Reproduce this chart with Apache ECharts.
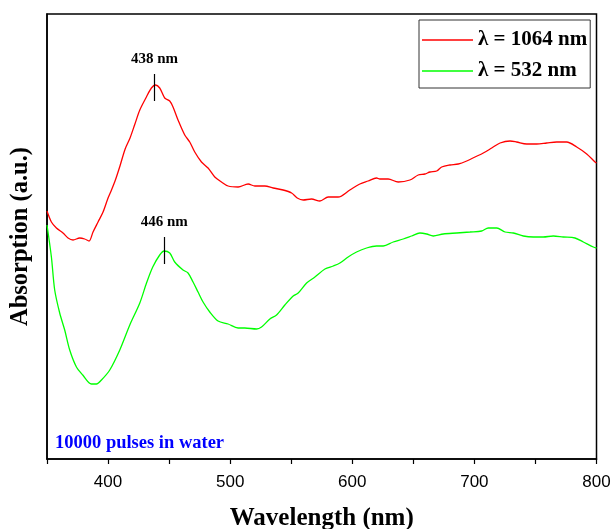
<!DOCTYPE html>
<html>
<head>
<meta charset="utf-8">
<script src="https://cdn.jsdelivr.net/npm/echarts@6/dist/echarts.min.js"></script>
<style>
html,body{margin:0;padding:0;background:#fff;}
#chart{width:612px;height:529px;}
</style>
</head>
<body>
<div id="chart"></div>
<script>
// Wavelength (nm) and absorption (a.u.)
const redWavelengths = [350,353.6,357.7,363.1,367.2,371.3,376.8,380.9,384.4,387.7,391.8,395.9,400,402.8,406,410,414,418,422,426,431.4,435.5,438.8,442.3,446.4,450.5,453.2,457.3,462.8,466.9,471,476.5,481.9,487.4,492.9,498.3,506.5,514.7,520.2,528.4,535.2,543.4,550.3,554.9,559.8,566.6,573.5,580.3,588.4,598,606.2,613,619.9,622.6,629.4,637.6,647.2,654,659.5,663.6,669.1,673.2,680,686.8,693.7,700.5,707.3,714.2,721,729.2,734.6,742.8,751,759.2,767.4,775.6,783.8,792,798.8,800];
const redValues = [2.48,2.37,2.31,2.26,2.21,2.19,2.21,2.20,2.18,2.27,2.37,2.47,2.61,2.69,2.79,2.94,3.10,3.21,3.35,3.49,3.62,3.71,3.74,3.71,3.61,3.58,3.52,3.39,3.24,3.17,3.07,2.97,2.91,2.82,2.77,2.73,2.72,2.75,2.73,2.73,2.71,2.69,2.66,2.61,2.59,2.60,2.58,2.62,2.62,2.69,2.75,2.78,2.81,2.80,2.80,2.77,2.79,2.84,2.85,2.87,2.88,2.92,2.94,2.95,2.98,3.02,3.06,3.11,3.16,3.18,3.17,3.15,3.15,3.16,3.17,3.17,3.12,3.05,2.97,2.96];

const greenWavelengths = [350,353.6,356.3,360.4,364.5,368.6,374.1,379.3,386.4,390.5,394.6,401.4,409.6,417.8,426,431.5,436.6,442.3,445.9,450.5,454.6,461.4,465.5,469.6,473.7,477.8,483.3,490.1,498.3,506.5,512,521.6,525.7,532.5,538,544.8,551.6,555.7,562.6,569.4,577.6,584.4,589.9,596.6,603.5,611.7,619.9,625.3,633.5,641.7,648.6,655.4,660.9,666.3,674.5,685.5,696.4,706,711.4,718.3,725.1,731.9,740.1,748.3,756.4,764.6,772.8,782.4,789.2,797.4,800];
const greenValues = [2.34,2.02,1.69,1.46,1.29,1.09,0.92,0.84,0.75,0.75,0.79,0.89,1.09,1.34,1.56,1.76,1.92,2.04,2.08,2.06,1.97,1.89,1.86,1.77,1.67,1.57,1.47,1.38,1.35,1.31,1.31,1.30,1.32,1.40,1.44,1.54,1.63,1.66,1.76,1.82,1.90,1.93,1.96,2.02,2.07,2.11,2.13,2.13,2.17,2.20,2.23,2.26,2.25,2.23,2.25,2.26,2.27,2.28,2.31,2.31,2.27,2.26,2.23,2.22,2.22,2.23,2.22,2.21,2.17,2.12,2.11];

const seriesNames = ['λ = 1064 nm', 'λ = 532 nm'];
const xTickLabels = [400, 500, 600, 700, 800];
// peak annotations: [wavelength, lineBottom, lineTop, label]
const redPeak = [438, 3.58, 3.85, '438 nm'];
const greenPeak = [446, 1.95, 2.22, '446 nm'];
const noteText = '10000 pulses in water';

const serif = '"Liberation Serif", "Times New Roman", serif';
const sans = '"Liberation Sans", Arial, sans-serif';

function pairs(xs, ys) { return xs.map((x, i) => [x, ys[i]]); }
function peakLine(p) {
  return {
    silent: true,
    symbol: ['none', 'none'],
    lineStyle: { color: '#000', width: 1.2, type: 'solid' },
    label: { show: true, position: 'end', distance: 7, formatter: p[3], color: '#000', fontFamily: serif, fontWeight: 'bold', fontSize: 15 },
    emphasis: { disabled: true },
    data: [[{ coord: [p[0], p[1]] }, { coord: [p[0], p[2]] }]]
  };
}

const chart = echarts.init(document.getElementById('chart'), null, { renderer: 'canvas' });
chart.setOption({
  animation: false,
  backgroundColor: '#fff',
  title: {
    text: noteText, left: 50, top: 429,
    textStyle: { color: '#0000ff', fontFamily: serif, fontWeight: 'bold', fontSize: 18.5 }
  },
  legend: {
    data: seriesNames.map(n => ({ name: n, icon: 'rect' })),
    orient: 'vertical',
    left: 419, top: 20,
    padding: [9, 3, 6, 3],
    itemWidth: 51, itemHeight: 1.6, itemGap: 9,
    borderColor: '#333', borderWidth: 1,
    textStyle: { color: '#000', fontFamily: serif, fontWeight: 'bold', fontSize: 21, lineHeight: 22 }
  },
  grid: { left: 47, right: 15.5, top: 14, bottom: 70, show: true, borderColor: '#000', borderWidth: 1.5,
    containLabel: false, outerBoundsMode: 'none' },
  xAxis: {
    type: 'value', min: 350, max: 800, interval: 50,
    name: 'Wavelength (nm)', nameLocation: 'middle', nameGap: 47,
    nameTextStyle: { color: '#000', fontFamily: serif, fontWeight: 'bold', fontSize: 25 },
    axisLine: { show: true, lineStyle: { color: '#000', width: 1.5 } },
    axisTick: { show: true, inside: false, length: 5, lineStyle: { color: '#000', width: 1.2 } },
    axisLabel: { color: '#000', fontFamily: sans, fontSize: 17, margin: 15,
      formatter: v => xTickLabels.indexOf(v) >= 0 ? String(v) : '' },
    splitLine: { show: false }
  },
  yAxis: {
    type: 'value', min: 0, max: 4.45,
    name: 'Absorption (a.u.)', nameLocation: 'middle', nameGap: 14,
    nameTextStyle: { color: '#000', fontFamily: serif, fontWeight: 'bold', fontSize: 24.5 },
    axisLine: { show: true, lineStyle: { color: '#000', width: 1.5 } },
    axisTick: { show: false }, axisLabel: { show: false }, splitLine: { show: false }
  },
  series: [
    { name: seriesNames[0], type: 'line', data: pairs(redWavelengths, redValues), symbol: 'none', smooth: 0.3,
      lineStyle: { color: '#ff0000', width: 1.3 }, itemStyle: { color: '#ff0000' }, markLine: peakLine(redPeak) },
    { name: seriesNames[1], type: 'line', data: pairs(greenWavelengths, greenValues), symbol: 'none', smooth: 0.3,
      lineStyle: { color: '#00ff00', width: 1.3 }, itemStyle: { color: '#00ff00' }, markLine: peakLine(greenPeak) }
  ]
});
</script>
</body>
</html>
